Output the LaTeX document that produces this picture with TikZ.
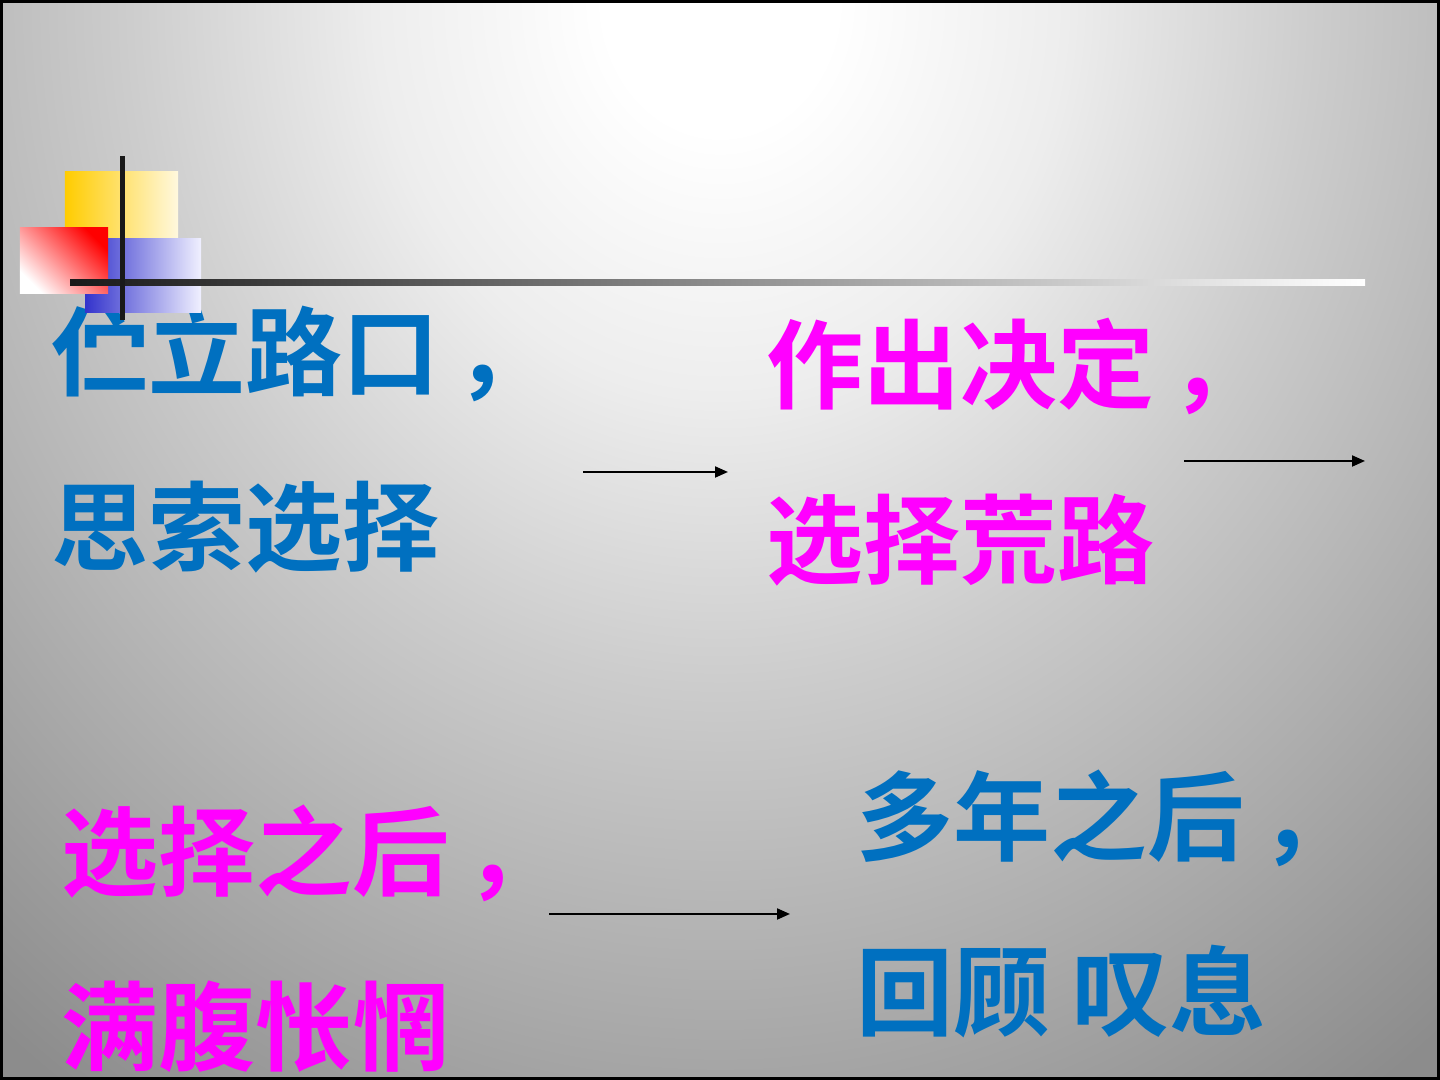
\documentclass[tikz,border=0pt]{standalone}
\usepackage{fontspec}
\newfontfamily\cjk{Noto Sans CJK SC}[BoldFont={* Bold}]
\usetikzlibrary{arrows.meta}

\definecolor{slideblue}{RGB}{0,112,192}
\definecolor{slidepink}{RGB}{255,0,255}
\definecolor{bghigh}{gray}{0.93}
\definecolor{bgmid}{gray}{0.80}
\definecolor{bgedge}{gray}{0.55}
\definecolor{sunA}{RGB}{255,204,0}
\definecolor{sunB}{RGB}{255,248,222}
\definecolor{inkA}{RGB}{51,51,204}
\definecolor{inkB}{RGB}{240,240,255}

\pgfdeclareradialshading{slidebg}{\pgfpoint{0bp}{0bp}}{%
  color(0bp)=(white); color(2.5bp)=(white); color(7.5bp)=(bghigh);
  color(13bp)=(bgmid); color(25bp)=(bgedge); color(50bp)=(bgedge)}

\newcommand{\cma}{\kern0.16em，}

\begin{document}
\begin{tikzpicture}[
  verse/.style={anchor=base west, inner sep=0pt, font=\cjk\bfseries\fontsize{27.6pt}{33pt}\selectfont},
  calm/.style={verse, text=slideblue},
  loud/.style={verse, text=slidepink},
  arr/.style={-{Triangle[length=0.13cm,width=0.11cm]}, line width=0.02cm}
]
\useasboundingbox (0,0) rectangle (14.4,10.8);

% background
\begin{scope}
  \clip (0,0) rectangle (14.4,10.8);
  \fill[bgedge] (0,0) rectangle (14.4,10.8);
  \shade[shading=slidebg] (7.2,10.8) ellipse [x radius=11.5, y radius=13.2];
\end{scope}
\draw[line width=0.03cm] (0.015,0.015) rectangle (14.385,10.785);

% texts
\node[calm] (t1a) at (0.51,6.91) {伫立路口\cma};
\node[calm] (t1b) at (0.51,5.16) {思索选择};
\node[loud] (t2a) at (7.66,6.78) {作出决定\cma};
\node[loud] (t2b) at (7.66,5.03) {选择荒路};
\node[loud] (t3a) at (0.61,1.91) {选择之后\cma};
\node[loud] (t3b) at (0.61,0.16) {满腹怅惘};
\node[calm] (t4a) at (8.56,2.26) {多年之后\cma};
\node[calm] (t4b) at (8.56,0.51) {回顾 叹息};

% arrows
\coordinate (a1s) at (5.83,6.08);
\coordinate (a1e) at (7.28,6.08);
\coordinate (a2s) at (11.84,6.19);
\coordinate (a2e) at (13.65,6.19);
\coordinate (a3s) at (5.49,1.66);
\coordinate (a3e) at (7.90,1.66);
\draw[arr] (a1s) -- (a1e);
\draw[arr] (a2s) -- (a2e);
\draw[arr] (a3s) -- (a3e);

% corner squares and rules
\shade[left color=sunA, middle color=sunA, right color=sunB] (0.65,7.90) rectangle (1.78,9.08);
\shade[left color=inkA, middle color=inkA, right color=inkB] (0.85,7.67) rectangle (2.01,8.41);
\shade[top color=red, bottom color=white, shading angle=-45] (0.20,7.86) rectangle (1.08,8.52);
\shade[left color=black!90, middle color=black!55, right color=white] (0.70,7.94) rectangle (13.65,8.00);
\fill[black!90] (1.195,7.60) rectangle (1.245,9.24);
\end{tikzpicture}
\end{document}
